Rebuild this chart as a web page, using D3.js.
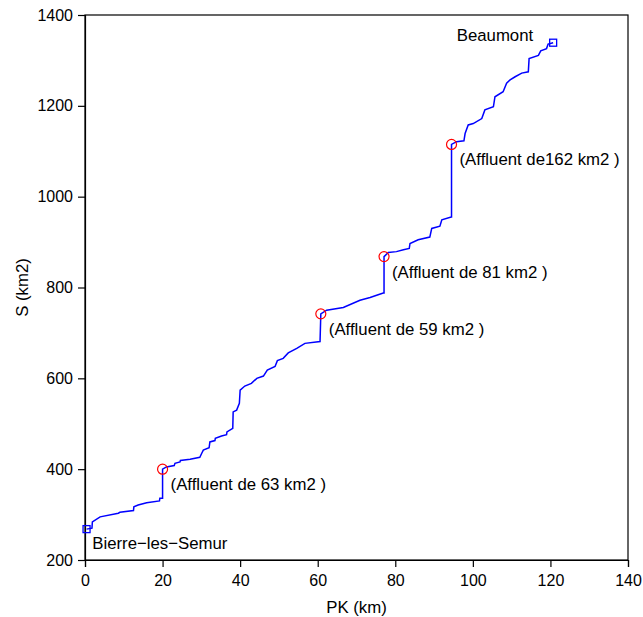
<!DOCTYPE html>
<html>
<head>
<meta charset="utf-8">
<script src="https://cdn.jsdelivr.net/npm/d3@7/dist/d3.min.js"></script>
<style>
  body { margin: 0; background: #fff; }
  svg text { font-family: "Liberation Sans", Arial, Helvetica, sans-serif; fill: #000; }
</style>
</head>
<body>
<svg id="chart" width="643" height="617"></svg>
<script>
// ---- data ----
const pkValues = [0.4, 1.8, 1.9, 3.9, 8.6, 9.0, 12.5, 12.6, 13.7, 15.9, 19.2, 19.3, 20.0, 20.0,
  21.0, 23.0, 23.2, 24.5, 24.6, 27.1, 29.6, 30.1, 30.5, 32.0, 32.2, 33.5, 33.6, 35.2, 36.5, 36.6, 38.1, 38.2, 39.1, 39.8, 40.0,
  41.2, 42.9, 44.3, 46.0, 47.0, 49.0, 49.6, 51.1, 52.4, 54.6, 56.7, 60.6, 60.8,
  62.3, 66.6, 70.9, 73.5, 75.2, 76.9, 77.1, 77.1,
  78.2, 80.3, 82.1, 83.6, 83.8, 85.9, 88.9, 89.4, 91.5, 92.0, 94.4, 94.5, 94.5,
  95.8, 97.7, 98.0, 98.8, 100.1, 102.3, 103.1, 105.3, 105.7, 107.8, 108.7, 109.6, 110.9, 112.6, 114.3, 114.5, 116.9, 117.5, 119.0, 119.4, 120.7];
const sValues = [268, 270, 284, 295, 303, 305, 309, 317, 321, 326, 330, 336, 336, 400,
  405, 408, 413, 416, 419, 422, 426, 435, 442, 447, 460, 463, 468, 473, 476, 482, 490, 526, 530, 545, 574,
  583, 589, 600, 605, 618, 626, 639, 644, 656, 666, 677, 681, 742,
  750, 756, 772, 778, 783, 788, 788, 868,
  877, 879, 883, 886, 897, 905, 911, 930, 935, 949, 955, 955, 1115,
  1121, 1123, 1139, 1158, 1161, 1172, 1191, 1198, 1220, 1231, 1250, 1257, 1264, 1272, 1275, 1304, 1311, 1321, 1326, 1336, 1339];

const affluentPK = [20.0, 60.8, 77.1, 94.5];
const affluentS = [400, 742, 868, 1115];
const affluentLabels = ["(Affluent de 63 km2 )", "(Affluent de 59 km2 )", "(Affluent de 81 km2 )", "(Affluent de162 km2 )"];

const placeNames = ["Bierre\u2212les\u2212Semur", "Beaumont"];
const placePK = [19.3, 105.7];
const placeS = [224, 1343];

const xTicks = [0, 20, 40, 60, 80, 100, 120, 140];
const yTicks = [200, 400, 600, 800, 1000, 1200, 1400];
const xTitle = "PK (km)";
const yTitle = "S (km2)";

// ---- layout ----
const svg = d3.select("#chart");
const pLeft = 85, pRight = 628, pTop = 15, pBottom = 560;
const x = d3.scaleLinear().domain([0, 140]).range([pLeft, pRight]);
const y = d3.scaleLinear().domain([200, 1400]).range([pBottom, pTop]);
const tickFont = "16px";
const textFont = "16.8px";

// frame
svg.append("rect")
  .attr("x", pLeft).attr("y", pTop)
  .attr("width", pRight - pLeft).attr("height", pBottom - pTop)
  .attr("fill", "none").attr("stroke", "#000").attr("stroke-width", 1.2);

// axes
const xAxis = d3.axisBottom(x).tickValues(xTicks).tickSize(7).tickPadding(8).tickFormat(d3.format("d"));
const yAxis = d3.axisLeft(y).tickValues(yTicks).tickSize(7).tickPadding(5).tickFormat(d3.format("d"));
const gx = svg.append("g").attr("transform", `translate(0,${pBottom})`).call(xAxis);
const gy = svg.append("g").attr("transform", `translate(${pLeft},0)`).call(yAxis);
[gx, gy].forEach(g => {
  g.select(".domain").attr("stroke", "#000").attr("stroke-width", 1.2);
  g.selectAll(".tick line").attr("stroke", "#000").attr("stroke-width", 1.2);
  g.selectAll(".tick text").style("font-size", tickFont).attr("fill", "#000")
    .style("font-family", '"Liberation Sans", Arial, sans-serif');
});

// titles
svg.append("text").attr("x", (pLeft + pRight) / 2).attr("y", 613)
  .attr("text-anchor", "middle").style("font-size", textFont).text(xTitle);
svg.append("text").attr("transform", `translate(28,${(pTop + pBottom) / 2}) rotate(-90)`)
  .attr("text-anchor", "middle").style("font-size", textFont).text(yTitle);

// line
const pts = pkValues.map((p, i) => [p, sValues[i]]);
const line = d3.line().x(d => x(d[0])).y(d => y(d[1]));
svg.append("path").datum(pts).attr("d", line)
  .attr("fill", "none").attr("stroke", "#0000ff").attr("stroke-width", 1.5)
  .attr("stroke-linejoin", "miter");

// start/end squares
const ends = [pts[0], pts[pts.length - 1]];
svg.selectAll("rect.end").data(ends).enter().append("rect")
  .attr("class", "end")
  .attr("x", d => x(d[0]) - 3.5).attr("y", d => y(d[1]) - 3.5)
  .attr("width", 7).attr("height", 7)
  .attr("fill", "none").attr("stroke", "#0000ff").attr("stroke-width", 1.3);

// affluent circles
svg.selectAll("circle.aff").data(affluentPK).enter().append("circle")
  .attr("class", "aff")
  .attr("cx", (d) => x(d)).attr("cy", (d, i) => y(affluentS[i]))
  .attr("r", 5).attr("fill", "none").attr("stroke", "#ff0000").attr("stroke-width", 1.2);

svg.selectAll("text.aff").data(affluentLabels).enter().append("text")
  .attr("class", "aff")
  .attr("x", (d, i) => x(affluentPK[i]) + 8)
  .attr("y", (d, i) => y(affluentS[i]) + 21)
  .style("font-size", textFont).text(d => d);

// place names
svg.selectAll("text.place").data(placeNames).enter().append("text")
  .attr("class", "place")
  .attr("x", (d, i) => x(placePK[i]))
  .attr("y", (d, i) => y(placeS[i]))
  .attr("text-anchor", "middle")
  .style("font-size", textFont).text(d => d);
</script>
</body>
</html>
